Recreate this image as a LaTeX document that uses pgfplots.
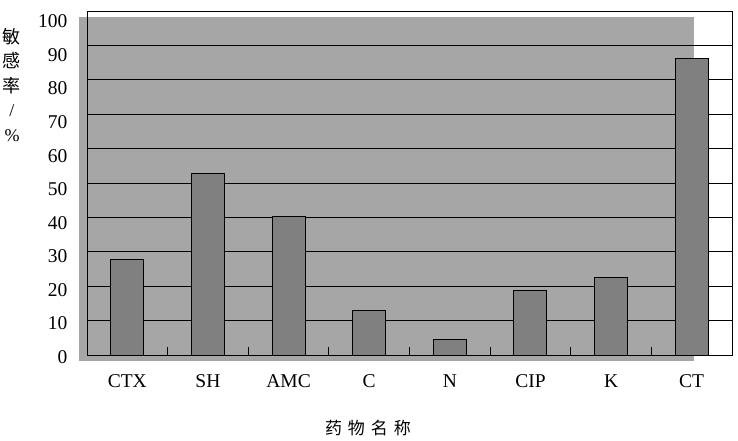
\documentclass[border=0pt]{standalone}
\usepackage{pgfplots}
\pgfplotsset{compat=1.18}
\usepackage{fontspec}
\setmainfont{Liberation Serif}
\newfontfamily\cjk{Noto Sans CJK SC}
\definecolor{bgfill}{RGB}{166,166,166}
\definecolor{barfill}{RGB}{128,128,128}
\begin{document}
\begin{tikzpicture}
\fill[bgfill] (-8bp,-6bp) rectangle (607bp,338bp);
\begin{axis}[
  at={(0,0)}, anchor=south west,
  scale only axis, width=645bp, height=344bp,
  xmin=-0.5, xmax=7.5, ymin=0, ymax=100,
  xtick={0,...,7},
  xticklabels={CTX,SH,AMC,C,N,CIP,K,CT},
  minor xtick={0.5,1.5,...,6.5},
  ytick={0,10,...,100},
  major tick length=0pt,
  minor tick length=8bp,
  tick align=inside,
  xtick pos=bottom, ytick pos=left,
  minor tick style={black, line width=0.9pt},
  ymajorgrids,
  grid style={black, line width=0.9pt},
  axis line style={black, line width=0.8pt},
  ticklabel style={font=\fontsize{19.5bp}{21bp}\selectfont},
  /pgf/number format/assume math mode=true,
  yticklabel style={xshift=-16bp, yshift=-2bp-0.85bp*\ticknum},
  xticklabel style={yshift=-16bp},
]
\addplot[ybar, bar width=33bp, fill=barfill, draw=black, line width=0.9pt]
  coordinates {(0,27.8) (1,52.7) (2,40.3) (3,13.0) (4,4.4) (5,18.9) (6,22.4) (7,86.1)};
\end{axis}
\node[anchor=north, align=center, font=\fontsize{18bp}{24.5bp}\selectfont, inner sep=0pt]
  at (-75bp,327bp) {{\cjk 敏}\\{\cjk 感}\\{\cjk 率}\\/\\\%};
\node[font=\fontsize{17bp}{20bp}\selectfont\cjk, inner sep=0pt]
  at (281bp,-73bp) {药\hspace{6bp}物\hspace{6bp}名\hspace{6bp}称};
\path (-87bp,-86bp) rectangle (651bp,344bp+11bp);
\end{tikzpicture}
\end{document}
